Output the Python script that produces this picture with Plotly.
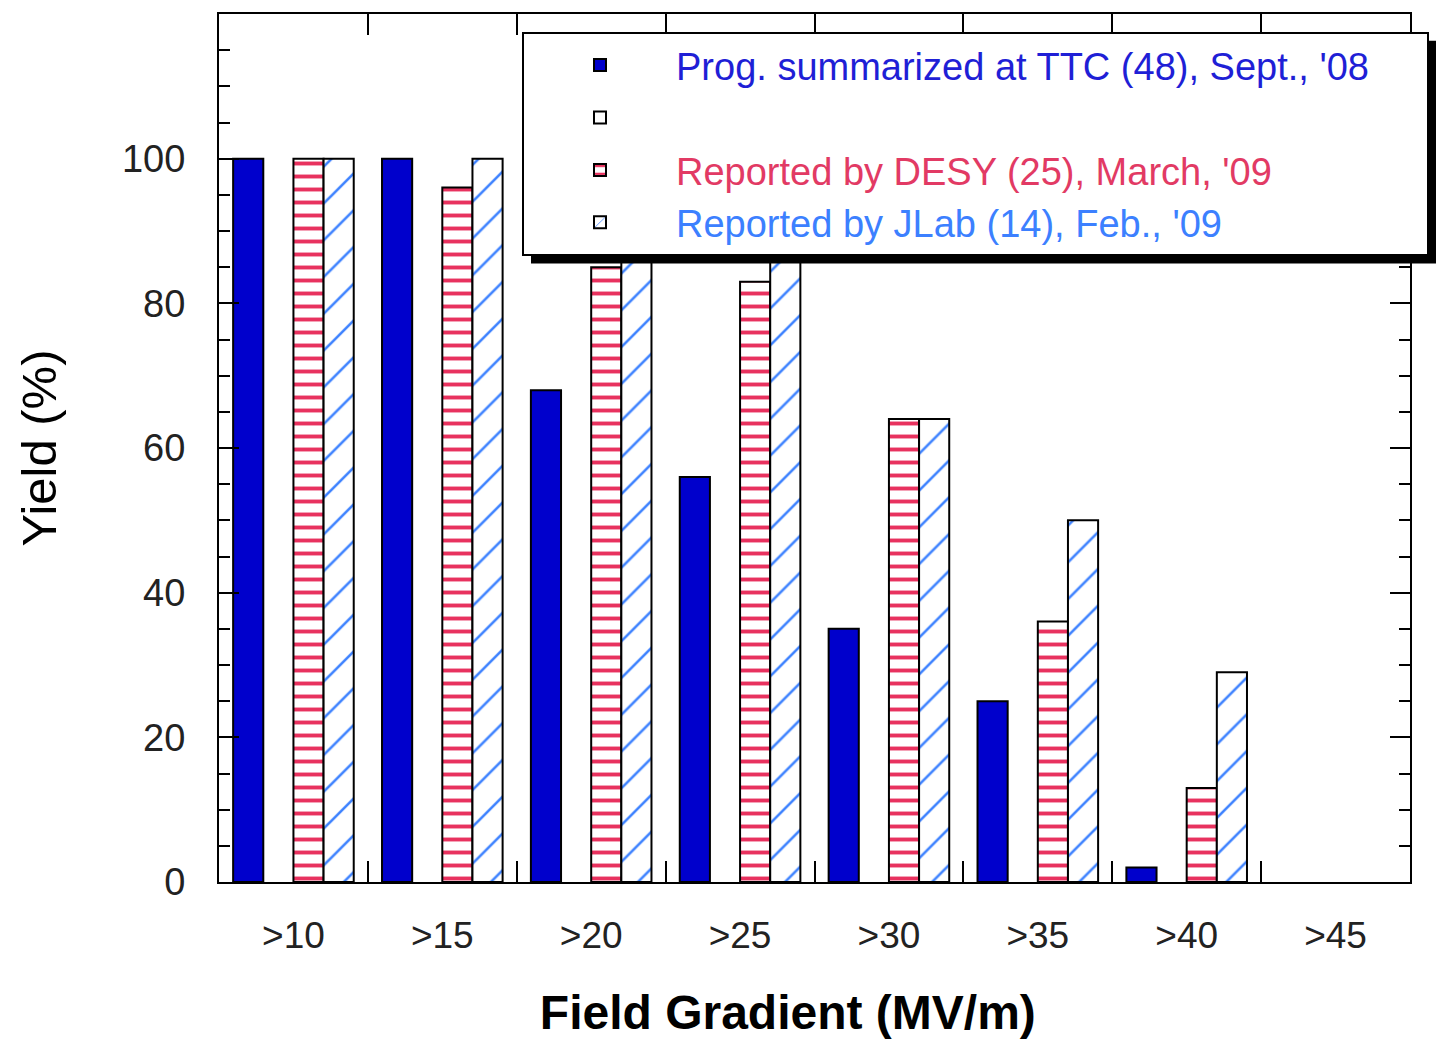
import plotly.graph_objects as go

categories = [">10", ">15", ">20", ">25", ">30", ">35", ">40", ">45"]
ttc_sept_2008 = [100, 100, 68, 56, 35, 25, 2, 0]
blank_series = [None, None, None, None, None, None, None, None]
desy_march_2009 = [100, 96, 85, 83, 64, 36, 13, 0]
jlab_feb_2009 = [100, 100, 86, 86, 64, 50, 29, 0]
y_tick_values = [0, 20, 40, 60, 80, 100]

names = [
    '<span style="color:#1f1fd6">Prog. summarized at TTC (48), Sept., \'08</span>' + "\u00a0" * 5,
    "\u00a0",
    '<span style="color:#e23a64">Reported by DESY (25), March, \'09</span>',
    '<span style="color:#3c80ff">Reported by JLab (14), Feb., \'09</span>',
]


def outline(values):
    # no outline on empty (zero) bars so nothing is drawn for them
    return dict(color="black", width=[2 if (v or 0) > 0 else 0 for v in values])


fig = go.Figure()
fig.add_trace(go.Bar(x=categories, y=ttc_sept_2008, name=names[0],
                     marker=dict(color="#0000cc", line=outline(ttc_sept_2008))))
fig.add_trace(go.Bar(x=categories, y=blank_series, name=names[1],
                     marker=dict(color="white", line=dict(color="black", width=2))))
fig.add_trace(go.Bar(x=categories, y=desy_march_2009, name=names[2],
                     marker=dict(color="white", line=outline(desy_march_2009),
                                 pattern=dict(shape="-", fgcolor="#e8325f", bgcolor="white",
                                              size=13, solidity=0.3, fillmode="replace"))))
fig.add_trace(go.Bar(x=categories, y=jlab_feb_2009, name=names[3],
                     marker=dict(color="white", line=outline(jlab_feb_2009),
                                 pattern=dict(shape="/", fgcolor="#3d82ff", bgcolor="white",
                                              size=26, solidity=0.1, fillmode="replace"))))

font_family = "Arial, Liberation Sans, Helvetica, sans-serif"

# legend drop shadow (pixel positions converted to paper coordinates)
plot_left, plot_width, plot_bottom, plot_height = 219, 1191, 885, 873
leg_left, leg_top, leg_right, leg_bottom = 522, 30, 1427, 254
shadow = 9
fig.add_shape(type="rect", xref="paper", yref="paper",
              x0=(leg_left + shadow - plot_left) / plot_width,
              x1=(leg_right + shadow - plot_left) / plot_width,
              y0=(plot_bottom - leg_bottom - shadow) / plot_height,
              y1=(plot_bottom - leg_top - shadow) / plot_height,
              fillcolor="black", line=dict(width=0), layer="above")

fig.update_layout(
    width=1441, height=1042, autosize=False,
    margin=dict(l=219, r=31, t=12, b=157),
    paper_bgcolor="white", plot_bgcolor="white",
    barmode="group", bargap=0.19, bargroupgap=0,
    font=dict(family=font_family, color="#222222"),
    showlegend=True,
    legend=dict(
        x=(leg_left - plot_left) / plot_width, y=(plot_bottom - leg_top) / plot_height,
        xanchor="left", yanchor="top",
        bgcolor="white", bordercolor="black", borderwidth=2,
        font=dict(size=38, family=font_family),
        itemwidth=142, traceorder="normal",
        itemclick=False, itemdoubleclick=False,
    ),
    xaxis=dict(
        type="category", range=[-0.5, 7.5],
        showline=True, linecolor="black", linewidth=2, mirror="ticks",
        ticks="inside", tickson="boundaries", ticklen=21, tickwidth=2, tickcolor="black",
        tickfont=dict(size=37, color="#222222"), ticklabelstandoff=20,
        showgrid=False, zeroline=False,
        title=dict(text="<b>Field Gradient (MV/m)" + "\u00a0" * 4 + "</b>",
                   font=dict(size=48, color="black"), standoff=40),
    ),
    yaxis=dict(
        range=[0, 120], tickmode="array", tickvals=y_tick_values,
        showline=True, linecolor="black", linewidth=2, mirror="ticks",
        ticks="inside", ticklen=20, tickwidth=2, tickcolor="black",
        minor=dict(tickmode="linear", tick0=0, dtick=5, ticks="inside",
                   ticklen=11, tickwidth=2, tickcolor="black", showgrid=False),
        tickfont=dict(size=38, color="#222222"), ticklabelstandoff=24,
        showgrid=False, zeroline=False,
        title=dict(text="Yield (%)", font=dict(size=49, color="black"), standoff=50),
    ),
)

fig.write_html("out.html")
